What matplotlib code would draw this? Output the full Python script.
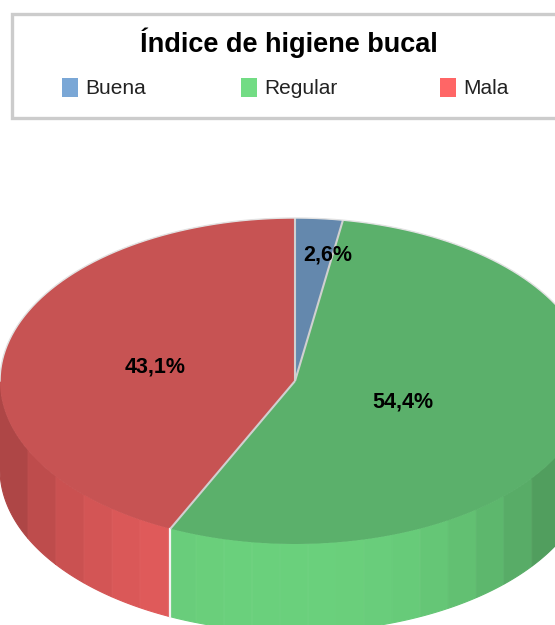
import numpy as np
import matplotlib
matplotlib.use('Agg')
import matplotlib.pyplot as plt
from matplotlib.patches import Rectangle

title = 'Índice de higiene bucal'
categories = ['Buena', 'Regular', 'Mala']
values = [2.6, 54.4, 43.1]
top_colors = ['#6488ad', '#5bb06b', '#c75353']
side_colors = ['#7aa7d6', '#6ad07c', '#e55c5c']
legend_colors = ['#7aa7d6', '#72dc84', '#ff6666']

W, H = 555, 625
# pie geometry, in pixels
cx, cy = 295, 381
rx, ry = 295, 163
depth = 88
band = 28


def arc(a, b, n=200):
    t = np.linspace(a, b, n)
    return cx + rx*np.sin(t), cy - ry*np.cos(t)


def darker(col, f):
    return tuple(c*f for c in matplotlib.colors.to_rgb(col))


fig = plt.figure(figsize=(W/100, H/100), dpi=100)
ax = fig.add_axes([0, 0, 1, 1])
ax.set_xlim(0, W)
ax.set_ylim(H, 0)
ax.axis('off')

frac = np.array(values)/sum(values)
edges = np.concatenate(([0], np.cumsum(frac)))*2*np.pi

# side of the pie, only the front half shows, stepped bands of equal width
for i in range(3):
    a = max(edges[i], np.pi/2)
    b = min(edges[i+1], 3*np.pi/2)
    if b <= a:
        continue
    xs, ys = arc(a, b, 1500)
    idx = np.floor(xs/band).astype(int)
    for k in np.unique(idx):
        m = idx == k
        off = abs((k + 0.5)*band - 280)/273
        col = darker(side_colors[i], 1 - 0.26*off**3)
        ax.fill(np.r_[xs[m], xs[m][::-1]], np.r_[ys[m], ys[m][::-1] + depth],
                facecolor=col, edgecolor=col, lw=0.8)

# seam between red and green on the side
xs, ys = arc(edges[2], edges[2], 2)
ax.plot([xs[0], xs[0]], [ys[0], ys[0] + depth], color='#f2f2f2', lw=1.6)

# top of the pie
for i in range(3):
    xs, ys = arc(edges[i], edges[i+1])
    ax.fill(np.r_[cx, xs], np.r_[cy, ys], facecolor=top_colors[i], edgecolor='none')
for e in edges[:3]:
    xs, ys = arc(e, e, 2)
    ax.plot([cx, xs[0]], [cy, ys[0]], color='#d0d0d0', lw=1.5, solid_capstyle='butt')
xs, ys = arc(-np.pi/2, np.pi/2)
ax.plot(xs, ys, color='#e2e2e2', lw=1)

# percent labels
label_pos = [(328, 255), (403, 402), (155, 367)]
for v, (lx, ly) in zip(values, label_pos):
    ax.text(lx, ly, f'{v:.1f}%'.replace('.', ','), ha='center', va='center',
            family=['Liberation Sans'], fontweight='bold', fontsize=15.5, color='black')

# legend box
ax.add_patch(Rectangle((11.5, 14), W, 104, facecolor='white', edgecolor='#cccccc', lw=2.4))
ax.text(289, 43, title, ha='center', va='center',
        family=['Liberation Sans'], fontweight='bold', fontsize=19.5, color='black')
swatch_x = [62, 241, 440]
for name, col, sx in zip(categories, legend_colors, swatch_x):
    ax.add_patch(Rectangle((sx, 78), 16, 19, facecolor=col, edgecolor='none'))
    ax.text(sx + 23, 89, name, ha='left', va='center',
            family=['Liberation Sans', 'DejaVu Sans'], fontsize=15, color='#222222')

fig.savefig('out.png', dpi=100)
